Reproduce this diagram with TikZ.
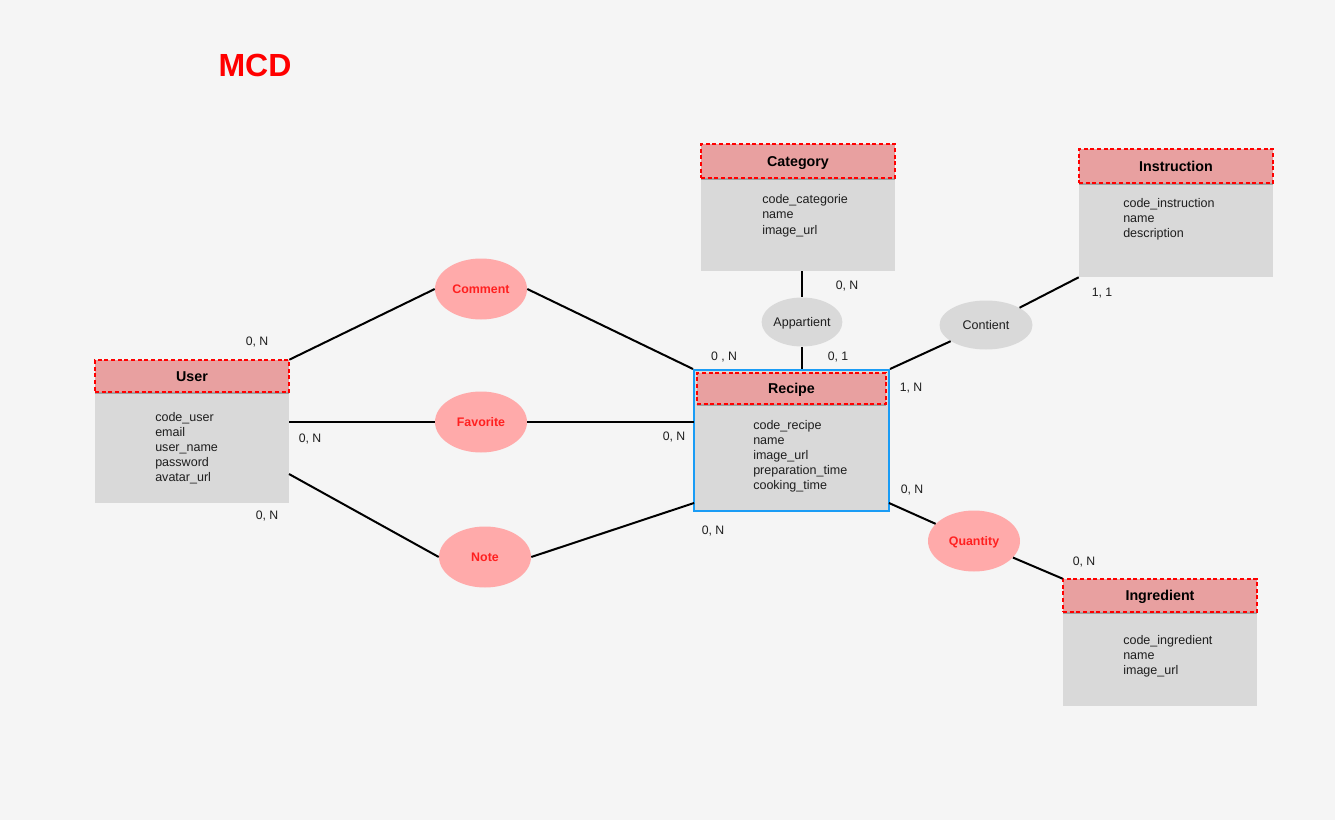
\documentclass[tikz,border=0pt]{standalone}
\usepackage{fontspec}
\setmainfont{Liberation Sans}
\usetikzlibrary{shapes.geometric,shadows,fit}
\definecolor{bg}{HTML}{F5F5F5}
\definecolor{hdrfill}{HTML}{E8A0A0}
\definecolor{bodyfill}{HTML}{D9D9D9}
\definecolor{pinkell}{HTML}{FFAAAA}
\definecolor{redtxt}{HTML}{FF2020}
\definecolor{reddash}{HTML}{FF0000}
\definecolor{blueb}{HTML}{1A9CF5}
\definecolor{txt}{HTML}{1E1E1E}
\begin{document}
\begin{tikzpicture}[x=0.75pt,y=-0.75pt,
  body/.style={fill=bodyfill, inner sep=0pt},
  hdr/.style={fill=hdrfill, draw=reddash, line width=1.1pt, dash pattern=on 3pt off 2pt, inner sep=0pt,
     drop shadow={shadow xshift=0pt,shadow yshift=-1.8pt,opacity=0.25,fill=black}},
  title/.style={font=\bfseries\fontsize{10.7}{12}\selectfont, text=black, inner sep=0pt,
     text height=7.6pt, text depth=0pt},
  attr/.style={font=\fontsize{9.4}{11}\selectfont, text=txt, anchor=base west, inner sep=0pt},
  assoc/.style={ellipse, fill=pinkell, inner sep=0pt, minimum width=69pt, minimum height=45.75pt,
     font=\bfseries\fontsize{9.3}{11}\selectfont, text=redtxt, text height=6.7pt, text depth=0pt},
  gassoc/.style={ellipse, fill=bodyfill, inner sep=0pt, minimum height=36.75pt,
     font=\fontsize{9.4}{11}\selectfont, text=txt, text height=6.7pt, text depth=0pt},
  card/.style={font=\fontsize{9.2}{11}\selectfont, text=txt, inner sep=0pt},
  conn/.style={draw=black, line width=1.5pt}
]
\fill[bg] (0,0) rectangle (1335,820);
\useasboundingbox (0,0) rectangle (1335,820);

% Title
\node[font=\bfseries\fontsize{24}{28}\selectfont, text=reddash, inner sep=0pt] (mcd) at (255,65) {MCD};

% User
\node[body, fit={(95,360)(289,503)}] (user) {};
\node[hdr, fit={(95,360)(289,392)}] (userH) {};
\node[title] (userT) at (userH.center) {User};
\foreach \t [count=\i] in {code\_user,email,user\_name,password,avatar\_url}
  \node[attr] (userA\i) at (155,{421+15*(\i-1)}) {\t};

% Category
\node[body, fit={(701,144)(895,271)}] (category) {};
\node[hdr, fit={(701,144)(895,178)}] (categoryH) {};
\node[title] (categoryT) at (categoryH.center) {Category};
\foreach \t [count=\i] in {code\_categorie,name,image\_url}
  \node[attr] (categoryA\i) at (762,{204+15*(\i-1)}) {\t};

% Instruction
\node[body, fit={(1079,149)(1273,277)}] (instruction) {};
\node[hdr, fit={(1079,149)(1273,183)}] (instructionH) {};
\node[title] (instructionT) at (instructionH.center) {Instruction};
\foreach \t [count=\i] in {code\_instruction,name,description}
  \node[attr] (instructionA\i) at (1123,{208+15*(\i-1)}) {\t};

% Recipe
\node[body, draw=blueb, line width=1.5pt, fit={(694,370)(889,511)}] (recipe) {};
\node[hdr, fit={(697,373)(886,404)}] (recipeH) {};
\node[title] (recipeT) at (recipeH.center) {Recipe};
\foreach \t [count=\i] in {code\_recipe,name,image\_url,preparation\_time,cooking\_time}
  \node[attr] (recipeA\i) at (753,{429+15*(\i-1)}) {\t};

% Ingredient
\node[body, fit={(1063,579)(1257,706)}] (ingredient) {};
\node[hdr, fit={(1063,579)(1257,612)}] (ingredientH) {};
\node[title] (ingredientT) at (ingredientH.center) {Ingredient};
\foreach \t [count=\i] in {code\_ingredient,name,image\_url}
  \node[attr] (ingredientA\i) at (1123,{644+15*(\i-1)}) {\t};

% Associations
\node[assoc] (comment) at (481,289) {Comment};
\node[assoc] (favorite) at (481,422) {Favorite};
\node[assoc] (note) at (485,557) {Note};
\node[assoc] (quantity) at (974,541) {Quantity};
\node[gassoc, minimum width=60pt] (appartient) at (802,322) {Appartient};
\node[gassoc, minimum width=69.75pt] (contient) at (986,325) {Contient};

% Attachment points
\coordinate (uFav) at (289,422);
\coordinate (rFav) at (694,422);
\coordinate (uNote) at (289,474);
\coordinate (rNote) at (694,503);
\coordinate (rQty) at (889,503);

% Connectors
\draw[conn] (user.north east) -- (comment.west);
\draw[conn] (comment.east) -- (recipe.north west);
\draw[conn] (uFav) -- (favorite.west);
\draw[conn] (favorite.east) -- (rFav);
\draw[conn] (uNote) -- (note.west);
\draw[conn] (note.east) -- (rNote);
\draw[conn] (appartient.north |- category.south) -- (appartient.north);
\draw[conn] (appartient.south) -- (appartient.south |- recipe.north);
\draw[conn] (recipe.north east) -- (contient);
\draw[conn] (contient) -- (instruction.south west);
\draw[conn] (rQty) -- (quantity);
\draw[conn] (quantity) -- (ingredient.north west);

% Cardinalities
\node[card] (c1) at (257,342) {0, N};
\node[card] (c2) at (310,439) {0, N};
\node[card] (c3) at (267,516) {0, N};
\node[card] (c4) at (724,357) {0 , N};
\node[card] (c5) at (674,437) {0, N};
\node[card] (c6) at (713,531) {0, N};
\node[card] (c7) at (838,357) {0, 1};
\node[card] (c8) at (847,286) {0, N};
\node[card] (c9) at (911,388) {1, N};
\node[card] (c10) at (1102,293) {1, 1};
\node[card] (c11) at (912,490) {0, N};
\node[card] (c12) at (1084,562) {0, N};
\end{tikzpicture}
\end{document}
